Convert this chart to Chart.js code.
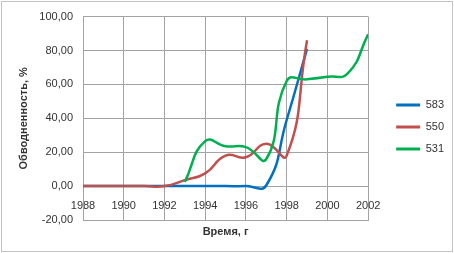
<!DOCTYPE html>
<html>
<head>
<meta charset="utf-8">
<script src="https://cdn.jsdelivr.net/npm/chart.js@4.4.1/dist/chart.umd.min.js"></script>
<style>
  body { margin: 0; background: #fff; }
  #wrap { position: relative; width: 454px; height: 253px; }
  #frame { position: absolute; left: 1px; top: 1px; width: 450px; height: 249px; border: 1px solid #c4c4c4; pointer-events: none; }
</style>
</head>
<body>
<div id="wrap">
  <canvas id="myChart" width="454" height="253"></canvas>
  <div id="frame"></div>
</div>
<script>
// years on the x axis
const years = [1988, 1989, 1990, 1991, 1992, 1993, 1994, 1995, 1996, 1997, 1998, 1999, 2000, 2001, 2002];
// water cut, % (null = no measurement)
const well583 = [0, 0, 0, 0, 0, 0, 0, 0, 0, 0.5, 39, 81, null, null, null];
const well550 = [0, 0, 0, 0, 0, 3.5, 7.5, 18, 17, 25, 18, 86, null, null, null];
const well531 = [null, null, null, null, null, 2.5, 26.5, 23.5, 23, 16, 62, 63, 64.5, 66.5, 89.5];
const seriesNames = ["583", "550", "531"];
const seriesColors = ["#0070C0", "#C0504D", "#00B050"];
const yTicks = [-20, 0, 20, 40, 60, 80, 100];

const font = "'Liberation Sans', Arial, sans-serif";
const gridColor = "#a3a3a3";

const toPoints = (vals) => years.map((x, i) => ({ x: x, y: vals[i] })).filter(p => p.y !== null);

const datasets = [well583, well550, well531].map((vals, i) => ({
  label: seriesNames[i],
  data: toPoints(vals),
  borderColor: seriesColors[i],
  backgroundColor: seriesColors[i],
  borderWidth: 2.5,
  pointRadius: 0,
  tension: 0.5,
  order: 3 - i, // later series on top, like excel
  xAxisID: "x",
  yAxisID: "y",
}));

const ctx = document.getElementById("myChart").getContext("2d");
new Chart(ctx, {
  type: "line",
  data: { datasets: datasets },
  options: {
    responsive: false,
    animation: false,
    devicePixelRatio: 1,
    layout: { padding: { left: 12, top: 15, right: 0, bottom: 14 } },
    plugins: {
      tooltip: { enabled: false },
      legend: {
        position: "right",
        labels: {
          boxWidth: 24,
          boxHeight: 3,
          padding: 11,
          color: "#333",
          font: { family: font, size: 11 },
          generateLabels: (chart) => chart.data.datasets.map((ds, i) => ({
            text: ds.label,
            fillStyle: ds.borderColor,
            strokeStyle: ds.borderColor,
            lineWidth: 0,
            hidden: false,
            datasetIndex: i,
            fontColor: "#333",
          })),
        },
      },
    },
    scales: {
      x: {
        type: "linear",
        position: "bottom",
        min: 1988,
        max: 2002,
        ticks: { display: false, stepSize: 2 },
        grid: { color: gridColor, drawTicks: false },
        border: { color: gridColor },
        title: {
          display: true,
          text: "Время, г",
          color: "#333",
          font: { family: font, size: 11, weight: "bold" },
          padding: { top: 0, bottom: 0.4 },
        },
        afterFit: (scale) => { scale.height = 19; },
      },
      xLabels: {
        type: "linear",
        position: { y: 0 },
        min: 1988,
        max: 2002,
        grid: { display: false, drawTicks: false },
        border: { display: false },
        ticks: {
          stepSize: 2,
          padding: 13,
          color: "#333",
          font: { family: font, size: 11 },
          callback: (v) => String(v),
        },
      },
      y: {
        min: -20,
        max: 100,
        afterBuildTicks: (scale) => { scale.ticks = yTicks.map(v => ({ value: v })); },
        ticks: {
          padding: 10,
          color: "#333",
          font: { family: font, size: 11 },
          callback: (v) => v.toFixed(2).replace(".", ","),
        },
        grid: { color: gridColor, drawTicks: false },
        border: { color: gridColor },
        title: {
          display: true,
          text: "Обводненность, %",
          color: "#333",
          font: { family: font, size: 11, weight: "bold" },
          padding: { top: 5, bottom: 0 },
        },
        afterFit: (scale) => { scale.width = 71; },
      },
      // empty axis, only keeps the gap between plot and legend
      gap: {
        position: "right",
        ticks: { display: false },
        grid: { display: false },
        border: { display: false },
        afterFit: (scale) => { scale.width = 17; },
      },
    },
  },
});
</script>
</body>
</html>
